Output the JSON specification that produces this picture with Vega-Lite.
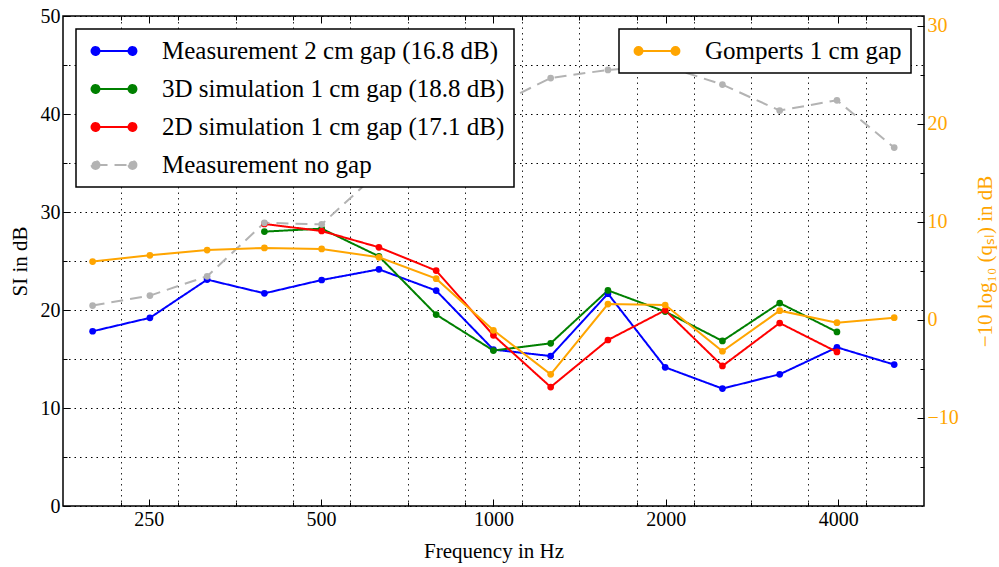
{
  "$schema": "https://vega.github.io/schema/vega-lite/v6.json",
  "autosize": {"type": "none"},
  "padding": {"left": 63, "top": 16, "right": 75, "bottom": 61},
  "width": 861,
  "height": 490,
  "background": "white",
  "datasets": {
    "sti": [
      {"f": 199.5, "series": "Measurement 2 cm gap (16.8 dB)", "v": 17.83},
      {"f": 251.2, "series": "Measurement 2 cm gap (16.8 dB)", "v": 19.2},
      {"f": 316.2, "series": "Measurement 2 cm gap (16.8 dB)", "v": 23.1},
      {"f": 398.1, "series": "Measurement 2 cm gap (16.8 dB)", "v": 21.7},
      {"f": 501.2, "series": "Measurement 2 cm gap (16.8 dB)", "v": 23.06},
      {"f": 631.0, "series": "Measurement 2 cm gap (16.8 dB)", "v": 24.15},
      {"f": 794.3, "series": "Measurement 2 cm gap (16.8 dB)", "v": 21.98},
      {"f": 1000, "series": "Measurement 2 cm gap (16.8 dB)", "v": 15.96},
      {"f": 1258.9, "series": "Measurement 2 cm gap (16.8 dB)", "v": 15.3},
      {"f": 1584.9, "series": "Measurement 2 cm gap (16.8 dB)", "v": 21.67},
      {"f": 1995.3, "series": "Measurement 2 cm gap (16.8 dB)", "v": 14.15},
      {"f": 2511.9, "series": "Measurement 2 cm gap (16.8 dB)", "v": 11.98},
      {"f": 3162.3, "series": "Measurement 2 cm gap (16.8 dB)", "v": 13.44},
      {"f": 3981.1, "series": "Measurement 2 cm gap (16.8 dB)", "v": 16.19},
      {"f": 5011.9, "series": "Measurement 2 cm gap (16.8 dB)", "v": 14.43},
      {"f": 398.1, "series": "3D simulation 1 cm gap (18.8 dB)", "v": 28.0},
      {"f": 501.2, "series": "3D simulation 1 cm gap (18.8 dB)", "v": 28.3},
      {"f": 631.0, "series": "3D simulation 1 cm gap (18.8 dB)", "v": 25.48},
      {"f": 794.3, "series": "3D simulation 1 cm gap (18.8 dB)", "v": 19.53},
      {"f": 1000, "series": "3D simulation 1 cm gap (18.8 dB)", "v": 15.86},
      {"f": 1258.9, "series": "3D simulation 1 cm gap (18.8 dB)", "v": 16.6},
      {"f": 1584.9, "series": "3D simulation 1 cm gap (18.8 dB)", "v": 22.0},
      {"f": 1995.3, "series": "3D simulation 1 cm gap (18.8 dB)", "v": 19.84},
      {"f": 2511.9, "series": "3D simulation 1 cm gap (18.8 dB)", "v": 16.84},
      {"f": 3162.3, "series": "3D simulation 1 cm gap (18.8 dB)", "v": 20.71},
      {"f": 3981.1, "series": "3D simulation 1 cm gap (18.8 dB)", "v": 17.76},
      {"f": 398.1, "series": "2D simulation 1 cm gap (17.1 dB)", "v": 28.78},
      {"f": 501.2, "series": "2D simulation 1 cm gap (17.1 dB)", "v": 28.06},
      {"f": 631.0, "series": "2D simulation 1 cm gap (17.1 dB)", "v": 26.4},
      {"f": 794.3, "series": "2D simulation 1 cm gap (17.1 dB)", "v": 24.02},
      {"f": 1000, "series": "2D simulation 1 cm gap (17.1 dB)", "v": 17.42},
      {"f": 1258.9, "series": "2D simulation 1 cm gap (17.1 dB)", "v": 12.14},
      {"f": 1584.9, "series": "2D simulation 1 cm gap (17.1 dB)", "v": 16.94},
      {"f": 1995.3, "series": "2D simulation 1 cm gap (17.1 dB)", "v": 19.97},
      {"f": 2511.9, "series": "2D simulation 1 cm gap (17.1 dB)", "v": 14.29},
      {"f": 3162.3, "series": "2D simulation 1 cm gap (17.1 dB)", "v": 18.67},
      {"f": 3981.1, "series": "2D simulation 1 cm gap (17.1 dB)", "v": 15.72},
      {"f": 199.5, "series": "Measurement no gap", "v": 20.45},
      {"f": 251.2, "series": "Measurement no gap", "v": 21.47},
      {"f": 316.2, "series": "Measurement no gap", "v": 23.44},
      {"f": 398.1, "series": "Measurement no gap", "v": 28.9},
      {"f": 501.2, "series": "Measurement no gap", "v": 28.74},
      {"f": 631.0, "series": "Measurement no gap", "v": 34.1},
      {"f": 794.3, "series": "Measurement no gap", "v": 38.0},
      {"f": 1000, "series": "Measurement no gap", "v": 40.8},
      {"f": 1258.9, "series": "Measurement no gap", "v": 43.67},
      {"f": 1584.9, "series": "Measurement no gap", "v": 44.5},
      {"f": 1995.3, "series": "Measurement no gap", "v": 44.9},
      {"f": 2511.9, "series": "Measurement no gap", "v": 43.0},
      {"f": 3162.3, "series": "Measurement no gap", "v": 40.35},
      {"f": 3981.1, "series": "Measurement no gap", "v": 41.4},
      {"f": 5011.9, "series": "Measurement no gap", "v": 36.57}
    ],
    "gomperts": [
      {"f": 199.5, "series": "Gomperts 1 cm gap", "q": 5.94},
      {"f": 251.2, "series": "Gomperts 1 cm gap", "q": 6.58},
      {"f": 316.2, "series": "Gomperts 1 cm gap", "q": 7.12},
      {"f": 398.1, "series": "Gomperts 1 cm gap", "q": 7.33},
      {"f": 501.2, "series": "Gomperts 1 cm gap", "q": 7.23},
      {"f": 631.0, "series": "Gomperts 1 cm gap", "q": 6.38},
      {"f": 794.3, "series": "Gomperts 1 cm gap", "q": 4.2},
      {"f": 1000, "series": "Gomperts 1 cm gap", "q": -1.07},
      {"f": 1258.9, "series": "Gomperts 1 cm gap", "q": -5.56},
      {"f": 1584.9, "series": "Gomperts 1 cm gap", "q": 1.61},
      {"f": 1995.3, "series": "Gomperts 1 cm gap", "q": 1.51},
      {"f": 2511.9, "series": "Gomperts 1 cm gap", "q": -3.21},
      {"f": 3162.3, "series": "Gomperts 1 cm gap", "q": 0.93},
      {"f": 3981.1, "series": "Gomperts 1 cm gap", "q": -0.29},
      {"f": 5011.9, "series": "Gomperts 1 cm gap", "q": 0.22}
    ]
  },
  "layer": [
    {
      "data": {"name": "sti"},
      "encoding": {
        "x": {
          "field": "f",
          "type": "quantitative",
          "scale": {"type": "log", "domain": [177.1, 5650], "nice": false},
          "axis": {
            "title": "Frequency in Hz",
            "values": [223.9, 250, 281.8, 354.8, 446.7, 500, 562.3, 707.9, 891.3, 1000, 1122, 1412.5, 1778.3, 2000, 2238.7, 2818.4, 3548.1, 4000, 4466.8],
            "format": "d",
            "labelExpr": "indexof([250, 500, 1000, 2000, 4000], datum.value) >= 0 ? datum.label : ''",
            "labelOverlap": false,
            "labelFlush": false,
            "gridOpacity": {"condition": {"test": "indexof([250, 500, 1000, 2000, 4000], datum.value) >= 0", "value": 0}, "value": 0.85},
            "tickSize": {"condition": {"test": "indexof([250, 500, 1000, 2000, 4000], datum.value) >= 0", "value": -7}, "value": -4},
            "labelPadding": 10,
            "titlePadding": 8
          }
        },
        "y": {
          "field": "v",
          "type": "quantitative",
          "scale": {"domain": [0, 50], "nice": false},
          "axis": {
            "title": "SI in dB",
            "values": [0, 5, 10, 15, 20, 25, 30, 35, 40, 45, 50],
            "labelExpr": "datum.value % 10 === 0 ? datum.label : ''",
            "tickSize": {"condition": {"test": "datum.value % 10 === 0", "value": -7}, "value": -4},
            "labelPadding": 10,
            "titlePadding": 10
          }
        },
        "color": {
          "field": "series",
          "type": "nominal",
          "scale": {
            "domain": ["Measurement 2 cm gap (16.8 dB)", "3D simulation 1 cm gap (18.8 dB)", "2D simulation 1 cm gap (17.1 dB)", "Measurement no gap"],
            "range": ["#0000FF", "#008000", "#FF0000", "#B3B3B3"]
          },
          "legend": {
            "title": null,
            "orient": "top-left",
            "offset": 13,
            "encode": {
              "symbols": {"update": {"fill": {"signal": "scale('color', datum.value)"}}},
              "legend": {"update": {"strokeWidth": {"value": 1.5}}}
            }
          }
        }
      },
      "layer": [
        {
          "mark": {"type": "line", "strokeWidth": 2},
          "encoding": {
            "strokeDash": {
              "field": "series",
              "type": "nominal",
              "scale": {
                "domain": ["Measurement 2 cm gap (16.8 dB)", "3D simulation 1 cm gap (18.8 dB)", "2D simulation 1 cm gap (17.1 dB)", "Measurement no gap"],
                "range": [[1, 0], [1, 0], [1, 0], [12, 7]]
              },
              "legend": {"title": null, "orient": "top-left", "offset": 13}
            }
          }
        },
        {
          "mark": {"type": "point", "filled": true, "size": 45, "opacity": 1}
        }
      ]
    },
    {
      "data": {"name": "gomperts"},
      "encoding": {
        "x": {
          "field": "f",
          "type": "quantitative",
          "scale": {"type": "log", "domain": [177.1, 5650], "nice": false},
          "axis": {
            "orient": "top",
            "title": null,
            "labels": false,
            "grid": false,
            "values": [223.9, 250, 281.8, 354.8, 446.7, 500, 562.3, 707.9, 891.3, 1000, 1122, 1412.5, 1778.3, 2000, 2238.7, 2818.4, 3548.1, 4000, 4466.8],
            "tickSize": {"condition": {"test": "indexof([250, 500, 1000, 2000, 4000], datum.value) >= 0", "value": -7}, "value": -4}
          }
        },
        "y": {
          "field": "q",
          "type": "quantitative",
          "scale": {"domain": [-19, 31], "nice": false, "zero": false},
          "axis": {
            "orient": "right",
            "title": "−10 log₁₀ (qₛₗ) in dB",
            "titleAngle": 270,
            "grid": false,
            "values": [-15, -10, -5, 0, 5, 10, 15, 20, 25, 30],
            "labelExpr": "datum.value % 10 === 0 ? datum.label : ''",
            "tickSize": {"condition": {"test": "datum.value % 10 === 0", "value": -7}, "value": -4},
            "labelColor": "#FFA500",
            "titleColor": "#FFA500",
            "labelPadding": 10,
            "titlePadding": 37
          }
        }
      },
      "layer": [
        {
          "mark": {"type": "line", "strokeWidth": 2},
          "encoding": {
            "stroke": {
              "field": "series",
              "type": "nominal",
              "scale": {"range": ["#FFA500"]},
              "legend": {
                "title": null,
                "orient": "top-right",
                "offset": 13,
                "encode": {
                  "symbols": {"update": {"fill": {"value": "#FFA500"}}},
                  "legend": {"update": {"strokeWidth": {"value": 1.5}}}
                }
              }
            }
          }
        },
        {
          "mark": {"type": "point", "filled": true, "size": 45, "color": "#FFA500", "opacity": 1}
        }
      ]
    }
  ],
  "resolve": {
    "scale": {"x": "independent", "y": "independent"},
    "axis": {"x": "independent", "y": "independent"}
  },
  "config": {
    "font": "Liberation Serif",
    "view": {"stroke": "black", "strokeWidth": 1.5},
    "axis": {
      "labelFont": "Liberation Serif",
      "labelFontSize": 20,
      "labelColor": "black",
      "titleFont": "Liberation Serif",
      "titleFontSize": 21,
      "titleFontWeight": "normal",
      "titleColor": "black",
      "domain": false,
      "tickColor": "black",
      "tickWidth": 1,
      "gridColor": "black",
      "gridDash": [1.5, 4],
      "gridWidth": 1
    },
    "legend": {
      "labelFont": "Liberation Serif",
      "labelFontSize": 25,
      "labelColor": "black",
      "labelLimit": 0,
      "fillColor": "white",
      "strokeColor": "black",
      "cornerRadius": 0,
      "padding": 9,
      "rowPadding": 12,
      "symbolType": "M-1.54,0L1.54,0M-1.21,0A0.33,0.33,0,1,1,-1.87,0A0.33,0.33,0,1,1,-1.21,0ZM1.87,0A0.33,0.33,0,1,1,1.21,0A0.33,0.33,0,1,1,1.87,0Z",
      "symbolSize": 576,
      "symbolStrokeWidth": 2,
      "symbolOffset": 16,
      "labelOffset": 35
    }
  }
}
